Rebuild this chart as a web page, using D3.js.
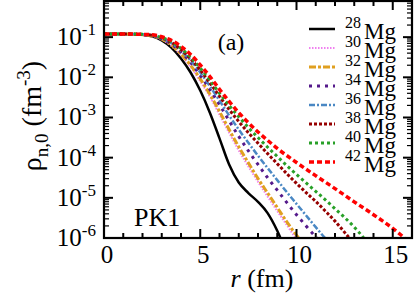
<!DOCTYPE html>
<html><head><meta charset="utf-8">
<script src="https://cdn.jsdelivr.net/npm/d3@7"></script>
<style>
html,body{margin:0;padding:0;background:#fff;}
svg{display:block;}
text{font-family:"Liberation Serif","DejaVu Serif",serif;fill:#000;}
</style></head>
<body>
<script>
// ---- data (log10 of density, fm^-3) ----
const nuclei = ["28","30","32","34","36","38","40","42"];
const colors = ["#000000","#f080f0","#e0a020","#551a8b","#4a88c4","#960000","#28a028","#ff0000"];
const dashes = [null,"1.5,1.5","7,2,3,2","3,5","6,2,2,2","3,2","3,3","5,3"];
const widths = [2.5,2,3,3,2.5,3,3,3.5];

const r28 = [0,1,2,2.5,3,3.5,4,4.5,5,5.5,6,6.5,7,7.5,8,8.5,9,9.3];
const v28 = [-0.92,-0.92,-0.94,-0.98,-1.08,-1.26,-1.53,-1.88,-2.33,-2.88,-3.52,-4.17,-4.62,-4.88,-5.1,-5.38,-5.82,-6.15];
const r30 = [0,1,2,2.5,3,3.5,4,4.5,5,5.5,6,6.5,7,7.5,8,8.5,9,9.5,10,10.2];
const v30 = [-0.92,-0.92,-0.94,-0.97,-1.06,-1.22,-1.45,-1.74,-2.1,-2.48,-2.93,-3.38,-3.82,-4.22,-4.6,-4.97,-5.33,-5.68,-6.03,-6.15];
const r32 = [0,1,2,2.5,3,3.5,4,4.5,5,5.5,6,6.5,7,7.5,8,8.5,9,9.5,10,10.4];
const v32 = [-0.92,-0.92,-0.94,-0.97,-1.05,-1.2,-1.42,-1.7,-2.04,-2.42,-2.85,-3.3,-3.73,-4.13,-4.52,-4.88,-5.24,-5.6,-5.93,-6.15];
const r34 = [0,1,2,2.5,3,3.5,4,4.5,5,5.5,6,6.5,7,7.5,8,8.5,9,9.5,10,10.5,11,11.4];
const v34 = [-0.92,-0.92,-0.94,-0.96,-1.04,-1.17,-1.37,-1.63,-1.95,-2.3,-2.68,-3.08,-3.47,-3.83,-4.17,-4.5,-4.81,-5.12,-5.42,-5.7,-5.97,-6.15];
const r36 = [0,1,2,2.5,3,3.5,4,4.5,5,5.5,6,6.5,7,7.5,8,8.5,9,9.5,10,10.5,11,11.5,11.8];
const v36 = [-0.92,-0.92,-0.93,-0.96,-1.03,-1.15,-1.34,-1.58,-1.88,-2.22,-2.58,-2.95,-3.3,-3.63,-3.95,-4.26,-4.56,-4.86,-5.15,-5.44,-5.73,-6.01,-6.15];
const r38 = [0,1,2,2.5,3,3.5,4,4.5,5,5.5,6,6.5,7,7.5,8,8.5,9,9.5,10,10.5,11,11.5,12,12.5,13];
const v38 = [-0.92,-0.92,-0.93,-0.95,-1.02,-1.13,-1.31,-1.54,-1.82,-2.14,-2.47,-2.8,-3.1,-3.38,-3.64,-3.9,-4.15,-4.4,-4.64,-4.87,-5.09,-5.33,-5.58,-5.86,-6.15];
const r40 = [0,1,2,2.5,3,3.5,4,4.5,5,5.5,6,6.5,7,7.5,8,8.5,9,9.5,10,10.5,11,11.5,12,12.5,13,13.5,13.7];
const v40 = [-0.92,-0.92,-0.93,-0.95,-1.01,-1.11,-1.28,-1.5,-1.77,-2.07,-2.4,-2.7,-2.98,-3.25,-3.5,-3.74,-3.97,-4.2,-4.42,-4.63,-4.84,-5.05,-5.27,-5.49,-5.73,-6.01,-6.15];
const r42 = [0,1,2,2.5,3,3.5,4,4.5,5,5.5,6,6.5,7,7.5,8,8.5,9,10,11,12,13,14,15,15.6,15.9];
const v42 = [-0.92,-0.92,-0.93,-0.94,-0.99,-1.08,-1.23,-1.43,-1.69,-1.98,-2.3,-2.6,-2.88,-3.13,-3.36,-3.57,-3.77,-4.12,-4.45,-4.77,-5.1,-5.42,-5.76,-6.0,-6.15];
const seriesR = [r28,r30,r32,r34,r36,r38,r40,r42];
const seriesV = [v28,v30,v32,v34,v36,v38,v40,v42];

const xTicks = [0,5,10,15];
const yExps = [-1,-2,-3,-4,-5,-6];

// ---- layout ----
const W = 415, H = 297;
const L = 104, R = 412, T = 1, B = 238;

const svg = d3.select("body").append("svg").attr("width",W).attr("height",H);
const x = d3.scaleLinear().domain([0,16]).range([L,R]);
const y = d3.scaleLog().domain([1e-6, Math.pow(10,-0.1)]).range([B,T]);

svg.append("clipPath").attr("id","clip").append("rect")
  .attr("x",L).attr("y",T).attr("width",R-L).attr("height",B-T);

const line = d3.line().x(d=>x(d[0])).y(d=>y(Math.pow(10,d[1]))).curve(d3.curveMonotoneX);
const gCurves = svg.append("g").attr("clip-path","url(#clip)");
for (let i=0;i<seriesR.length;i++){
  const pts = seriesR[i].map((rv,j)=>[rv, seriesV[i][j]]);
  const p = gCurves.append("path").datum(pts).attr("d",line)
    .attr("fill","none").attr("stroke",colors[i]).attr("stroke-width",widths[i]);
  if (dashes[i]) p.attr("stroke-dasharray",dashes[i]);
}

// ---- axes (ticks inward) ----
const ax = svg.append("g");
const xMinor = d3.range(0,17,1);
const yMinor = [];
for (let e=-6;e<0;e++) for (let k=1;k<10;k++){ const v=k*Math.pow(10,e); if (v<=Math.pow(10,-0.1)) yMinor.push(v); }
xMinor.forEach(v=>{
  const major = v%5===0;
  const len = major?9:5;
  ax.append("line").attr("x1",x(v)).attr("x2",x(v)).attr("y1",B).attr("y2",B-len).attr("stroke","#000").attr("stroke-width",2);
  ax.append("line").attr("x1",x(v)).attr("x2",x(v)).attr("y1",T).attr("y2",T+len).attr("stroke","#000").attr("stroke-width",2);
});
yMinor.forEach(v=>{
  const major = Math.abs(Math.log10(v)-Math.round(Math.log10(v)))<1e-9;
  const len = major?9:5;
  ax.append("line").attr("x1",L).attr("x2",L+len).attr("y1",y(v)).attr("y2",y(v)).attr("stroke","#000").attr("stroke-width",major?2:1.2);
  ax.append("line").attr("x1",R).attr("x2",R-len).attr("y1",y(v)).attr("y2",y(v)).attr("stroke","#000").attr("stroke-width",major?2:1.2);
});
ax.append("rect").attr("x",L).attr("y",T).attr("width",R-L).attr("height",B-T)
  .attr("fill","none").attr("stroke","#000").attr("stroke-width",2.2);

// tick labels
xTicks.forEach(v=>{
  svg.append("text").attr("x",x(v)+3).attr("y",263).attr("text-anchor","middle")
    .attr("font-size",25).text(v);
});
yExps.forEach(e=>{
  const t = svg.append("text").attr("x",96).attr("y",y(Math.pow(10,e))+8).attr("text-anchor","end").attr("font-size",25);
  t.append("tspan").text("10");
  t.append("tspan").attr("dy",-10).attr("font-size",17).text(String(e));
});

// axis titles
const xt = svg.append("text").attr("x",262).attr("y",287).attr("text-anchor","middle").attr("font-size",26);
xt.append("tspan").attr("font-style","italic").text("r");
xt.append("tspan").text(" (fm)");

const yt = svg.append("text").attr("transform","translate(41,116) rotate(-90)").attr("text-anchor","middle").attr("font-size",28);
yt.append("tspan").text("ρ");
yt.append("tspan").attr("dy",7).attr("font-size",19).text("n,0");
yt.append("tspan").attr("dy",-7).text(" (fm");
yt.append("tspan").attr("dy",-11).attr("font-size",19).text("-3");
yt.append("tspan").attr("dy",11).text(")");

// annotations
svg.append("text").attr("x",231).attr("y",50).attr("text-anchor","middle").attr("font-size",24).text("(a)");
svg.append("text").attr("x",134).attr("y",226).attr("font-size",26).text("PK1");

// legend
const legY0 = 29, legDy = 19;
nuclei.forEach((n,i)=>{
  const yy = legY0 + i*legDy;
  const l = svg.append("line").attr("x1",309).attr("x2",335).attr("y1",yy).attr("y2",yy)
    .attr("stroke",colors[i]).attr("stroke-width",widths[i]);
  if (dashes[i]) l.attr("stroke-dasharray",dashes[i]);
  svg.append("text").attr("x",345).attr("y",yy-1).attr("font-size",16).text(n);
  svg.append("text").attr("x",364).attr("y",yy+10).attr("font-size",23).text("Mg");
});
</script>
</body></html>
